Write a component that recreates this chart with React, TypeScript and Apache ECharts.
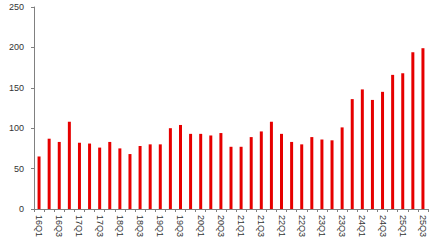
import React, { useEffect, useRef } from "react";
import * as echarts from "echarts";

const categories = [
  "16Q1", "16Q2", "16Q3", "16Q4",
  "17Q1", "17Q2", "17Q3", "17Q4",
  "18Q1", "18Q2", "18Q3", "18Q4",
  "19Q1", "19Q2", "19Q3", "19Q4",
  "20Q1", "20Q2", "20Q3", "20Q4",
  "21Q1", "21Q2", "21Q3", "21Q4",
  "22Q1", "22Q2", "22Q3", "22Q4",
  "23Q1", "23Q2", "23Q3", "23Q4",
  "24Q1", "24Q2", "24Q3", "24Q4",
  "25Q1", "25Q2", "25Q3",
];

const values = [
  65, 87, 83, 108,
  82, 81, 76, 83,
  75, 68, 78, 80,
  80, 100, 104, 93,
  93, 91, 94, 77,
  77, 89, 96, 108,
  93, 83, 80, 89,
  86, 85, 101, 136,
  148, 135, 145, 166,
  168, 194, 199,
];

const yTicks = { min: 0, max: 250, interval: 50 };

const FONT = "'Liberation Sans', Arial, sans-serif";

export default function App() {
  const ref = useRef<HTMLDivElement>(null);
  useEffect(() => {
    if (!ref.current) return;
    const chart = echarts.init(ref.current, undefined, { renderer: "svg" });
    chart.setOption({
      animation: false,
      textStyle: { fontFamily: FONT },
      grid: { left: 34, right: 8, top: 7, bottom: 37, containLabel: false },
      xAxis: {
        type: "category",
        data: categories,
        boundaryGap: true,
        axisLine: { lineStyle: { color: "#808080", width: 1 } },
        axisTick: { show: true, interval: 0, length: 3, lineStyle: { color: "#808080" } },
        axisLabel: {
          interval: 1,
          rotate: -90,
          color: "#333",
          fontSize: 9,
          fontFamily: FONT,
          margin: 6,
        },
      },
      yAxis: {
        type: "value",
        min: yTicks.min,
        max: yTicks.max,
        interval: yTicks.interval,
        splitLine: { show: false },
        axisLine: { show: true, lineStyle: { color: "#808080", width: 1 } },
        axisTick: { show: true, length: 3, lineStyle: { color: "#808080" } },
        axisLabel: {
          color: "#333",
          fontSize: 9,
          fontFamily: FONT,
          margin: 10,
        },
      },
      series: [
        {
          type: "bar",
          data: values,
          barWidth: 3,
          itemStyle: { color: "#e60000" },
        },
      ],
    });
    return () => chart.dispose();
  }, []);
  return <div ref={ref} style={{ width: 436, height: 246, position: "absolute", left: 0, top: 0 }} />;
}
